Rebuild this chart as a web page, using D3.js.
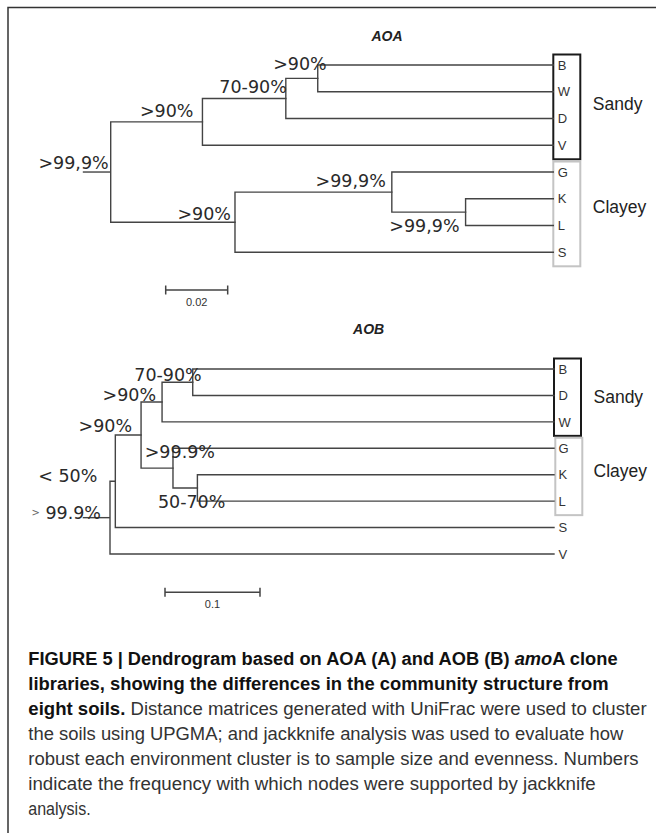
<!DOCTYPE html>
<html>
<head>
<meta charset="utf-8">
<script src="https://cdnjs.cloudflare.com/ajax/libs/d3/7.8.5/d3.min.js"></script>
<style>
  html, body { margin: 0; padding: 0; background: #fff; }
  svg { display: block; }
</style>
</head>
<body>
<div id="chart"></div>
<script>
// ---- AOA tree: leaves top to bottom, merges bottom-up (ids n0..n6), heights = distance from tips
const aoaLeaves = ["B", "W", "D", "V", "G", "K", "L", "S"];
const aoaMerges = [["B", "W"], ["n0", "D"], ["n1", "V"], ["K", "L"], ["G", "n3"], ["n4", "S"], ["n2", "n5"]];
const aoaHeights = [0.0760, 0.0863, 0.1132, 0.0283, 0.0521, 0.1027, 0.1428];
const aoaSupport = [">90%", "70-90%", ">90%", ">99,9%", ">99,9%", ">90%", ">99,9%"];
const aoaRootStub = 0.009;
const aoaScaleBar = 0.02;
const aoaGroups = [["Sandy", ["B", "W", "D", "V"]], ["Clayey", ["G", "K", "L", "S"]]];

// ---- AOB tree
const aobLeaves = ["B", "D", "W", "G", "K", "L", "S", "V"];
const aobMerges = [["B", "D"], ["n0", "W"], ["K", "L"], ["G", "n2"], ["n1", "n3"], ["n4", "S"], ["n5", "V"]];
const aobHeights = [0.3803, 0.4126, 0.3754, 0.4011, 0.4347, 0.4618, 0.4674];
const aobSupport = ["70-90%", ">90%", "50-70%", ">99.9%", ">90%", "< 50%", "> 99.9%"];
const aobRootStub = 0.0287;
const aobScaleBar = 0.1;
const aobGroups = [["Sandy", ["B", "D", "W"]], ["Clayey", ["G", "K", "L"]]];

// ---- caption text (b = bold, bi = bold italic, r = regular)
const captionLines = [
    [["FIGURE 5 | Dendrogram based on AOA (A) and AOB (B) ", "b"], ["amo", "bi"], ["A clone", "b"]],
    [["libraries, showing the differences in the community structure from", "b"]],
    [["eight soils.", "b"], [" Distance matrices generated with UniFrac were used to cluster", "r"]],
    [["the soils using UPGMA; and jackknife analysis was used to evaluate how", "r"]],
    [["robust each environment cluster is to sample size and evenness. Numbers", "r"]],
    [["indicate the frequency with which nodes were supported by jackknife", "r"]],
    [["analysis.", "r"]]
];

const W = 656, H = 833;
const lineColor = "#444";
const sans = "'Liberation Sans', Arial, sans-serif";

const svg = d3.select("#chart").append("svg")
    .attr("width", W)
    .attr("height", H);

svg.append("rect").attr("width", W).attr("height", H).attr("fill", "#fff");

// frame: top and left rules only
svg.append("path")
    .attr("d", `M8,${H} V7.5 H${W}`)
    .attr("fill", "none")
    .attr("stroke", "#333")
    .attr("stroke-width", 1.5);

function buildTree(leaves, merges, heights) {
    const nodes = {};
    leaves.forEach(name => nodes[name] = { name: name, height: 0 });
    merges.forEach((pair, i) => {
        nodes["n" + i] = { name: "n" + i, index: i, height: heights[i], children: pair.map(k => nodes[k]) };
    });
    return d3.hierarchy(nodes["n" + (merges.length - 1)]);
}

function drawTree(cfg) {
    const g = svg.append("g");
    const root = buildTree(cfg.leaves, cfg.merges, cfg.heights);

    const x = d3.scaleLinear()
        .domain([0, d3.max(cfg.heights)])
        .range([cfg.leafX, cfg.rootX]);
    const y = d3.scalePoint()
        .domain(cfg.leaves)
        .range(cfg.yRange);

    root.eachAfter(n => {
        n.px = x(n.data.height);
        n.py = n.children
            ? (n.children[0].py + n.children[n.children.length - 1].py) / 2
            : y(n.data.name);
    });

    // title
    g.append("text")
        .attr("x", cfg.titleX)
        .attr("y", cfg.titleY)
        .attr("text-anchor", "middle")
        .attr("font-family", sans)
        .attr("font-size", "14px")
        .attr("font-weight", "bold")
        .attr("font-style", "italic")
        .attr("fill", "#222")
        .text(cfg.title);

    // group boxes (drawn under the branches)
    const step = y.step();
    cfg.groups.forEach((grp, i) => {
        const ys = grp[1].map(d => y(d));
        const top = d3.min(ys) - 10.5, bottom = d3.max(ys) + 14;
        g.append("rect")
            .attr("x", cfg.leafX + (i === 1 ? cfg.box2Shift : 0))
            .attr("y", top)
            .attr("width", 27)
            .attr("height", bottom - top)
            .attr("fill", "none")
            .attr("stroke", i === 0 ? "#1a1a1a" : "#c4c4c4")
            .attr("stroke-width", 2);
        g.append("text")
            .attr("x", cfg.leafX + 39.5)
            .attr("y", d3.mean(ys) + cfg.groupDy[i])
            .attr("font-family", sans)
            .attr("font-size", "17.5px")
            .attr("fill", "#222")
            .text(grp[0]);
    });

    // branches
    const internal = root.descendants().filter(d => d.children);
    internal.forEach(n => {
        const first = n.children[0], last = n.children[n.children.length - 1];
        let d = `M${n.px},${first.py}V${last.py}`;
        n.children.forEach(c => { d += `M${n.px},${c.py}H${c.px}`; });
        g.append("path")
            .attr("d", d)
            .attr("fill", "none")
            .attr("stroke", lineColor)
            .attr("stroke-width", 1.4)
            .attr("stroke-linecap", "square");
    });

    // root stub
    g.append("path")
        .attr("d", `M${x(root.data.height + cfg.stub)},${root.py}H${root.px}`)
        .attr("stroke", lineColor)
        .attr("stroke-width", 1.4);

    // leaf labels
    root.leaves().forEach(l => {
        g.append("text")
            .attr("x", l.px + 4.5)
            .attr("y", l.py)
            .attr("dy", "0.36em")
            .attr("font-family", sans)
            .attr("font-size", "13px")
            .attr("fill", "#333")
            .text(l.data.name);
    });

    // support labels
    internal.forEach(n => {
        const i = n.data.index;
        const label = cfg.support[i];
        const t = g.append("text")
            .attr("x", n.px + cfg.nudge[i][0])
            .attr("y", n.py + cfg.nudge[i][1])
            .attr("text-anchor", "end")
            .attr("font-family", "'DejaVu Sans', sans-serif")
            .attr("font-size", "17.5px")
            .attr("fill", "#2a2a2a")
            .style("white-space", "pre");
        if (label.startsWith("> ")) {
            t.append("tspan").attr("font-size", "10px").attr("fill", "#666").attr("dy", "-3").text(">");
            t.append("tspan").attr("dy", "3").text(label.slice(1));
        } else {
            t.text(label);
        }
    });

    // scale bar
    const barLen = x(0) - x(cfg.scaleBar);
    const sb = g.append("g").attr("transform", `translate(${cfg.barX},${cfg.barY})`);
    sb.append("path")
        .attr("d", `M0,0H${barLen}M0,-4.5V4.5M${barLen},-4.5V4.5`)
        .attr("stroke", lineColor)
        .attr("stroke-width", 1.5)
        .attr("fill", "none");
    sb.append("text")
        .attr("x", barLen / 2)
        .attr("y", 15.5)
        .attr("text-anchor", "middle")
        .attr("font-family", sans)
        .attr("font-size", "11px")
        .attr("fill", "#333")
        .text(String(cfg.scaleBar));
}

drawTree({
    title: "AOA", titleX: 387, titleY: 40.5,
    leaves: aoaLeaves, merges: aoaMerges, heights: aoaHeights,
    support: aoaSupport, stub: aoaRootStub, scaleBar: aoaScaleBar, groups: aoaGroups,
    leafX: 553.3, rootX: 110.7, yRange: [65, 252.3],
    groupDy: [4.6, 1], box2Shift: 0,
    nudge: [[9, -8], [1, -5], [-9, -4.5], [-6, 19.5], [-6, -5], [-4, -2], [-2, -3]],
    barX: 165.7, barY: 290
});

drawTree({
    title: "AOB", titleX: 368.6, titleY: 333.5,
    leaves: aobLeaves, merges: aobMerges, heights: aobHeights,
    support: aobSupport, stub: aobRootStub, scaleBar: aobScaleBar, groups: aobGroups,
    leafX: 554, rootX: 110, yRange: [369, 554],
    groupDy: [7.8, 2], box2Shift: 1.3,
    nudge: [[9, -1], [-6, -1], [28, 20], [42, -10], [-9, -3], [-18, 1], [-9, 1]],
    barX: 165, barY: 592.3
});

// caption: each line squeezed horizontally to the width it has in the figure
const captionLeft = 28.3;
const captionRight = [618.3, 609, 647, 624, 639, 596, 90.7];
captionLines.forEach((segs, i) => {
    const t = svg.append("text")
        .attr("font-family", sans)
        .attr("font-size", "18.5px")
        .style("white-space", "pre");
    segs.forEach(s => {
        t.append("tspan")
            .attr("font-weight", s[1] === "r" ? "normal" : "bold")
            .attr("font-style", s[1] === "bi" ? "italic" : "normal")
            .attr("fill", s[1] === "r" ? "#333" : "#111")
            .text(s[0]);
    });
    const natural = t.node().getComputedTextLength();
    const k = (captionRight[i] - captionLeft) / natural;
    t.attr("transform", `translate(${captionLeft},${665 + i * 25}) scale(${k},1)`);
});
</script>
</body>
</html>
